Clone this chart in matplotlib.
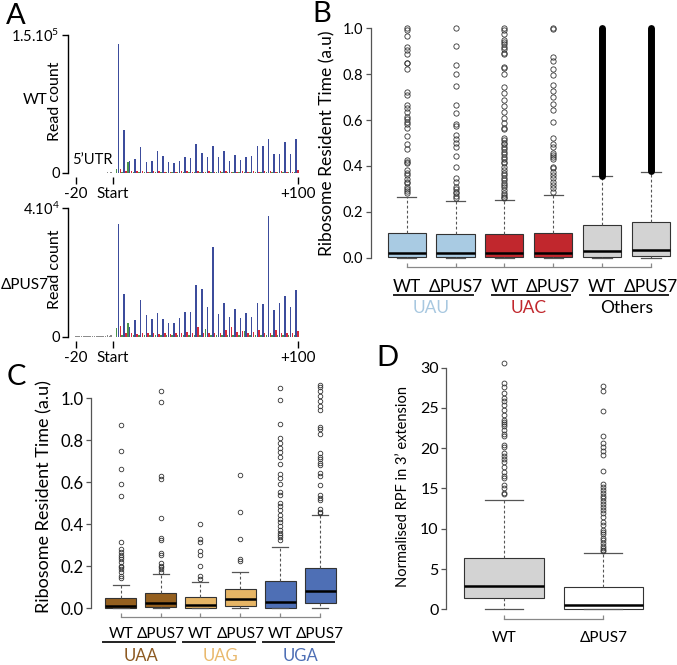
import numpy as np
import matplotlib
matplotlib.use('Agg')
import matplotlib.pyplot as plt

plt.rcParams['font.family'] = ['Lato', 'DejaVu Sans']
plt.rcParams['mathtext.default'] = 'regular'

# ---------------- Panel A data (read counts, in thousands) ----------------
utr_pos = [-20, -19, -18, -17, -16, -15, -14, -13, -12, -11, -10, -9, -8, -7, -6, -5, -4, -3, -2, -1]
utr_wt = [0.4, 0.3, 0.5, 0.3, 0.4, 0.3, 0.5, 0.4, 0.3, 0.4, 0.3, 0.5, 0.4, 0.3, 0.4, 0.5, 0.3, 0.8, 0.4, 0.6]
utr_ko = [0.2, 0.2, 0.3, 0.2, 0.2, 0.3, 0.2, 0.2, 0.3, 0.2, 0.2, 0.3, 0.2, 0.2, 0.3, 0.3, 0.2, 0.4, 0.3, 0.5]

blue_pos = [3, 6, 9, 12, 15, 18, 21, 24, 27, 30, 33, 36, 39, 42, 45, 48, 51, 54, 57, 60,
            63, 66, 69, 72, 75, 78, 81, 84, 87, 90, 93, 96, 99]
red_pos = [4, 7, 10, 13, 16, 19, 22, 25, 28, 31, 34, 37, 40, 43, 46, 49, 52, 55, 58, 61,
           64, 67, 70, 73, 76, 79, 82, 85, 88, 91, 94, 97, 100]
green_pos = [2, 5, 8, 11, 14, 17, 20, 23, 26, 29, 32, 35, 38, 41, 44, 47, 50, 53, 56, 59,
             62, 65, 68, 71, 74, 77, 80, 83, 86, 89, 92, 95, 98]

wt_blue = [139.9, 46.3, 13.4, 15.5, 28.6, 11.9, 13.0, 24.2, 18.4, 11.9, 10.5, 12.7, 17.7, 16.3,
           31.8, 22.0, 17.7, 29.3, 17.7, 23.9, 12.7, 19.2, 14.1, 17.7, 18.1, 29.3, 29.3, 36.5,
           21.0, 21.0, 33.6, 21.0, 37.2]
wt_red = [4.0, 2.0, 2.5, 1.8, 2.2, 1.5, 1.8, 2.0, 1.5, 1.6, 1.5, 1.8, 2.5, 1.6, 1.8, 1.5, 2.0,
          1.6, 1.8, 2.2, 1.5, 1.6, 2.0, 1.5, 1.8, 1.6, 2.0, 2.2, 1.6, 1.8, 1.5, 1.6, 3.0]
wt_green = [4.5, 1.0, 12.0, 1.5, 1.0, 0.8, 0.8, 1.0, 0.8, 0.7, 0.8, 0.9, 0.8, 0.7, 0.8, 0.9, 1.2,
            0.8, 0.7, 0.8, 0.9, 0.8, 0.7, 0.8, 0.9, 0.8, 0.7, 0.8, 0.9, 0.8, 0.7, 0.8, 1.5]

ko_blue = [34.9, 13.3, 3.1, 5.2, 11.4, 6.7, 5.5, 7.2, 5.6, 4.3, 4.1, 5.8, 7.6, 7.6, 16.0, 14.9,
           9.2, 27.8, 6.9, 10.6, 6.2, 8.7, 5.8, 7.5, 6.2, 10.4, 10.1, 37.4, 8.2, 10.3, 12.7, 9.2, 14.5]
ko_red = [3.3, 1.2, 1.0, 0.8, 1.0, 1.2, 1.0, 0.8, 1.0, 0.8, 1.0, 1.0, 1.4, 1.2, 3.1, 1.2, 1.0,
          1.2, 1.2, 2.1, 3.1, 1.5, 1.9, 1.2, 1.4, 2.1, 1.0, 1.2, 2.1, 1.0, 1.0, 1.0, 1.9]
ko_green = [2.6, 0.5, 4.3, 0.6, 0.5, 0.4, 0.5, 0.4, 0.5, 0.4, 0.5, 0.4, 0.5, 0.6, 0.5, 0.4, 2.3,
            0.5, 0.4, 0.5, 0.4, 0.5, 0.4, 1.9, 0.5, 0.4, 0.5, 0.4, 0.5, 0.4, 0.5, 0.4, 0.6]

# ---------------- Panel B data (Ribosome resident time) ----------------
b_labels = ['WT', 'ΔPUS7', 'WT', 'ΔPUS7', 'WT', 'ΔPUS7']
b_groups = ['UAU', 'UAC', 'Others']
b_q1 = [0.002, 0.002, 0.002, 0.002, 0.003, 0.006]
b_med = [0.019, 0.019, 0.022, 0.022, 0.029, 0.035]
b_q3 = [0.110, 0.102, 0.102, 0.110, 0.144, 0.154]
b_whislo = [0.0, 0.0, 0.0, 0.0, 0.0, 0.0]
b_whishi = [0.265, 0.246, 0.251, 0.272, 0.355, 0.375]
b_fl_uau_wt = [1.0, 0.990, 0.967, 0.920, 0.903, 0.888, 0.850, 0.847, 0.821, 0.724, 0.709, 0.666,
               0.651, 0.634, 0.615, 0.603, 0.593, 0.581, 0.564, 0.531, 0.494, 0.474, 0.426, 0.419,
               0.411, 0.382, 0.371, 0.360, 0.342, 0.331, 0.327, 0.310, 0.298, 0.291, 0.281]
b_fl_uau_ko = [1.0, 0.923, 0.840, 0.801, 0.749, 0.666, 0.629, 0.583, 0.574, 0.535, 0.516, 0.502,
               0.484, 0.443, 0.397, 0.346, 0.331, 0.310, 0.298, 0.288, 0.281, 0.269, 0.259]
b_fl_uac_wt = [1.0, 0.990, 0.975, 0.949, 0.942, 0.932, 0.920, 0.908, 0.894, 0.888, 0.833, 0.826,
               0.801, 0.743, 0.717, 0.688, 0.661, 0.637, 0.608, 0.586, 0.564, 0.560, 0.520, 0.513,
               0.501, 0.496, 0.484, 0.472, 0.462, 0.452, 0.440, 0.429, 0.419, 0.411, 0.397, 0.382,
               0.371, 0.360, 0.346, 0.339, 0.327, 0.317, 0.307, 0.295, 0.283, 0.273, 0.266, 0.259]
b_fl_uac_ko = [1.0, 0.996, 0.874, 0.855, 0.821, 0.797, 0.753, 0.728, 0.702, 0.670, 0.644, 0.593,
               0.520, 0.496, 0.484, 0.455, 0.448, 0.440, 0.429, 0.397, 0.390, 0.375, 0.360, 0.346,
               0.331, 0.317, 0.302, 0.288]
b_dense_lo = [0.358, 0.378]   # "Others": outliers so dense they merge into a solid column
b_dense_hi = [1.0, 1.0]

# ---------------- Panel C data ----------------
c_labels = ['WT', 'ΔPUS7', 'WT', 'ΔPUS7', 'WT', 'ΔPUS7']
c_groups = ['UAA', 'UAG', 'UGA']
c_q1 = [0.003, 0.008, 0.002, 0.013, 0.0, 0.027]
c_med = [0.011, 0.027, 0.014, 0.043, 0.030, 0.084]
c_q3 = [0.048, 0.071, 0.052, 0.090, 0.130, 0.194]
c_whislo = [0.0, 0.0, 0.0, 0.0, 0.0, 0.0]
c_whishi = [0.110, 0.162, 0.125, 0.175, 0.294, 0.443]
c_fl_uaa_wt = [0.873, 0.749, 0.663, 0.590, 0.535, 0.314, 0.283, 0.267, 0.254, 0.243, 0.233, 0.222,
               0.203, 0.195, 0.186, 0.175, 0.154, 0.143]
c_fl_uaa_ko = [1.035, 0.981, 0.632, 0.616, 0.432, 0.333, 0.325, 0.262, 0.254, 0.214, 0.203, 0.195,
               0.186, 0.175]
c_fl_uag_wt = [0.403, 0.329, 0.314, 0.273, 0.254, 0.203, 0.154, 0.138]
c_fl_uag_ko = [0.635, 0.460, 0.329, 0.233, 0.227]
c_fl_uga_wt = [1.051, 0.994, 0.876, 0.810, 0.786, 0.762, 0.746, 0.722, 0.687, 0.638, 0.622, 0.590,
               0.552, 0.540, 0.500, 0.487, 0.468, 0.444, 0.424, 0.413, 0.394, 0.373, 0.360, 0.349,
               0.338, 0.325]
c_fl_uga_ko = [1.063, 1.056, 1.037, 1.013, 0.989, 0.965, 0.944, 0.862, 0.852, 0.830, 0.738, 0.722,
               0.710, 0.694, 0.683, 0.646, 0.630, 0.587, 0.540, 0.524, 0.516, 0.471, 0.460, 0.452]

# ---------------- Panel D data ----------------
d_labels = ['WT', 'ΔPUS7']
d_q1 = [1.37, 0.0]
d_med = [2.90, 0.58]
d_q3 = [6.33, 2.81]
d_whislo = [0.0, 0.0]
d_whishi = [13.57, 7.03]
d_fl_wt = [30.6, 28.1, 27.6, 26.9, 26.2, 25.9, 25.4, 24.7, 24.1, 23.5, 23.3, 23.0, 22.7, 22.3, 21.8,
           21.5, 20.4, 20.1, 19.4, 19.0, 18.7, 18.3, 17.7, 17.1, 16.5, 16.3, 15.4, 15.0, 14.5, 14.3]
d_fl_ko = [27.7, 27.1, 24.6, 21.5, 20.7, 20.2, 19.6, 19.1, 17.2, 15.6, 15.2, 14.8, 14.4, 14.1, 13.8,
           13.4, 13.1, 12.7, 12.3, 11.9, 11.5, 10.9, 10.5, 9.9, 9.6, 9.4, 8.9, 8.6, 8.2, 7.9, 7.6,
           7.4, 7.2]

# ---------------- Figure ----------------
W, H = 677, 665
fig = plt.figure(figsize=(W / 100, H / 100), dpi=100)


def ax_px(l, t, r, b):
    return fig.add_axes([l / W, 1 - b / H, (r - l) / W, (b - t) / H])


BLUE, RED, GREEN, GREY = '#3c4c9c', '#d62b3b', '#4b944b', '#8c8c8c'


def panel_a(ax, utr, blue, red, green, ymax, ylab):
    ax.bar(utr_pos, utr, width=0.8, color=GREY, linewidth=0)
    ax.bar(green_pos, green, width=0.8, color=GREEN, linewidth=0)
    ax.bar(red_pos, red, width=0.8, color=RED, linewidth=0)
    ax.bar(blue_pos, blue, width=0.8, color=BLUE, linewidth=0)
    ax.set_xlim(-24.3, 102)
    ax.set_ylim(0, ymax)
    for s in ['top', 'right']:
        ax.spines[s].set_visible(False)
    ax.spines['bottom'].set_position(('outward', 3))
    ax.spines['bottom'].set_linewidth(0)
    ax.spines['left'].set_linewidth(1.0)
    ax.set_yticks([0, ymax], ['0', ylab], fontsize=10.5)
    ax.set_xticks([-20, 0, 100], ['-20', 'Start', '+100'], fontsize=11)
    ax.tick_params(axis='y', length=4, width=1.0, pad=2)
    ax.tick_params(axis='x', length=5, width=1.0, pad=2)
    ax.text(-0.055, 0.52, 'Read count', transform=ax.transAxes, rotation=90,
            ha='center', va='center', fontsize=11.5)
    return ax


axA1 = ax_px(68, 35, 301.7, 173)
panel_a(axA1, utr_wt, wt_blue, wt_red, wt_green, 150, '1.5.10$^5$')
axA1.text(-0.141, 0.53, 'WT', transform=axA1.transAxes, ha='center', va='center', fontsize=11)
axA1.text(-11.3, 14.0, '5’UTR', ha='center', va='center', fontsize=10.5)

axA2 = ax_px(68, 207.7, 301.7, 336.7)
panel_a(axA2, utr_ko, ko_blue, ko_red, ko_green, 40, '4.10$^4$')
axA2.text(-0.184, 0.40, 'ΔPUS7', transform=axA2.transAxes, ha='center', va='center', fontsize=11)

BOX_KW = dict(patch_artist=True, showfliers=True,
              boxprops=dict(edgecolor='#333333', linewidth=0.8),
              medianprops=dict(color='black', linewidth=1.8),
              whiskerprops=dict(color='#555555', linewidth=0.8, linestyle=(0, (2.5, 2))),
              capprops=dict(color='#555555', linewidth=0.9),
              flierprops=dict(marker='o', markerfacecolor='none', markeredgecolor='#333333',
                              markersize=3.8, markeredgewidth=0.6))


def make_stats(q1, med, q3, lo, hi, fliers):
    return [dict(q1=a, med=m, q3=c, whislo=l, whishi=h, fliers=f)
            for a, m, c, l, h, f in zip(q1, med, q3, lo, hi, fliers)]


def style_box_axes(ax, ybounds, nbox, ticks, ticklabels, ylabel, ysize, labsize, xlabsize, lpad):
    for s in ['top', 'right']:
        ax.spines[s].set_visible(False)
    ax.spines['left'].set_bounds(*ybounds)
    ax.spines['left'].set_color('#555555')
    ax.spines['left'].set_linewidth(0.9)
    ax.spines['bottom'].set_bounds(1, nbox)
    ax.spines['bottom'].set_color('#888888')
    ax.spines['bottom'].set_linewidth(0.9)
    ax.set_yticks(ticks, ticklabels, fontsize=ysize)
    ax.tick_params(axis='y', length=3.5, width=0.9, color='#555555', pad=2)
    ax.tick_params(axis='x', direction='in', length=3, width=0.9, color='#888888', pad=8.5)
    ax.set_ylabel(ylabel, fontsize=labsize, labelpad=lpad)
    for t in ax.get_xticklabels():
        t.set_fontsize(xlabsize)


# ---------------- Panel B ----------------
axB = ax_px(370.5, 19, 675.5, 267)
b_stats = make_stats(b_q1, b_med, b_q3, b_whislo, b_whishi,
                     [b_fl_uau_wt, b_fl_uau_ko, b_fl_uac_wt, b_fl_uac_ko, [], []])
bpB = axB.bxp(b_stats, positions=[1, 2, 3, 4, 5, 6], widths=0.78, capwidths=0.4, **BOX_KW)
for patch, c in zip(bpB['boxes'], ['#a9cbe3', '#a9cbe3', '#c1272d', '#c1272d', '#d3d3d3', '#d3d3d3']):
    patch.set_facecolor(c)
axB.vlines([5, 6], b_dense_lo, b_dense_hi, colors='black', linewidth=5, capstyle='round')
axB.set_xlim(0.26, 6.5)
axB.set_ylim(-0.04, 1.04)
axB.set_xticks([1, 2, 3, 4, 5, 6], b_labels)
style_box_axes(axB, (0, 1), 6, [0, 0.2, 0.4, 0.6, 0.8, 1.0],
               ['0.0', '0.2', '0.4', '0.6', '0.8', '1.0'],
               'Ribosome Resident Time (a.u)', 10.5, 12.5, 12.5, 5)
tB = axB.get_xaxis_transform()
for i, (g, col) in enumerate(zip(b_groups, ['#a8c8e0', '#c1272d', 'black'])):
    x0 = 1 + 2 * i
    axB.plot([x0 - 0.25, x0 + 1.35], [-0.113, -0.113], transform=tB, color='#222222',
             linewidth=1.4, clip_on=False)
    axB.text(x0 + 0.5, -0.165, g, transform=tB, ha='center', va='center', fontsize=12.5, color=col)

# ---------------- Panel C ----------------
axC = ax_px(91.2, 377.3, 340, 616.7)
c_stats = make_stats(c_q1, c_med, c_q3, c_whislo, c_whishi,
                     [c_fl_uaa_wt, c_fl_uaa_ko, c_fl_uag_wt, c_fl_uag_ko, c_fl_uga_wt, c_fl_uga_ko])
bpC = axC.bxp(c_stats, positions=[1, 2, 3, 4, 5, 6], widths=0.78, capwidths=0.4, **BOX_KW)
for patch, c in zip(bpC['boxes'], ['#95601f', '#95601f', '#e6b565', '#e6b565', '#4e6fb5', '#4e6fb5']):
    patch.set_facecolor(c)
for fl in bpC['fliers']:
    fl.set_markersize(3.3)
axC.set_xlim(0.26, 6.5)
axC.set_ylim(-0.04, 1.1)
axC.set_xticks([1, 2, 3, 4, 5, 6], c_labels)
style_box_axes(axC, (0, 1), 6, [0, 0.2, 0.4, 0.6, 0.8, 1.0],
               ['0.0', '0.2', '0.4', '0.6', '0.8', '1.0'],
               'Ribosome Resident Time (a.u)', 12, 13, 11, 6)
axC.tick_params(axis='x', pad=7.5)
tC = axC.get_xaxis_transform()
for i, (g, col) in enumerate(zip(c_groups, ['#8d5a22', '#e9b96d', '#4e6fb5'])):
    x0 = 1 + 2 * i
    axC.plot([x0 - 0.44, x0 + 1.36], [-0.105, -0.105], transform=tC, color='#222222',
             linewidth=1.4, clip_on=False)
    axC.text(x0 + 0.5, -0.164, g, transform=tC, ha='center', va='center', fontsize=12, color=col)

# ---------------- Panel D ----------------
axD = ax_px(446.4, 353.2, 660.9, 619.1)
d_stats = make_stats(d_q1, d_med, d_q3, d_whislo, d_whishi, [d_fl_wt, d_fl_ko])
bpD = axD.bxp(d_stats, positions=[1, 2], widths=0.8, capwidths=0.38, **BOX_KW)
for patch, c in zip(bpD['boxes'], ['#d3d3d3', 'white']):
    patch.set_facecolor(c)
for fl in bpD['fliers']:
    fl.set_markersize(3.5)
axD.set_xlim(0.42, 2.58)
axD.set_ylim(-1.22, 31.8)
axD.set_xticks([1, 2], d_labels)
style_box_axes(axD, (0, 30), 2, [0, 5, 10, 15, 20, 25, 30],
               ['0', '5', '10', '15', '20', '25', '30'],
               'Normalised RPF in 3’ extension', 11.5, 10.5, 11, 7)

# ---------------- Panel letters ----------------
for lab, x, y in [('A', 16, 16), ('B', 322, 14), ('C', 16, 377), ('D', 387, 358)]:
    fig.text(x / W, 1 - y / H, lab, ha='center', va='center', fontsize=21)

fig.savefig('out.png', dpi=100)
